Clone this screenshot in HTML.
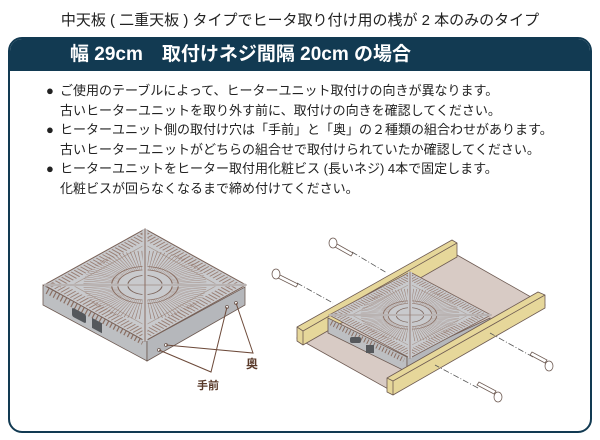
<!DOCTYPE html>
<html><head><meta charset="utf-8"><style>
html,body{margin:0;padding:0;background:#fff;}
body{width:600px;height:440px;position:relative;overflow:hidden;font-family:"Liberation Sans","Noto Sans CJK JP",sans-serif;}
.title{position:absolute;top:9px;left:0;width:600px;text-align:center;font-size:15px;color:#222;}
.box{position:absolute;left:8px;top:37px;width:580px;height:392px;border:2px solid #123a52;border-radius:14px;overflow:hidden;}
.hd{height:32px;background:#123a52;color:#fff;font-weight:bold;font-size:19px;line-height:32px;padding-left:60px;}
.li{position:absolute;left:50px;font-size:13px;color:#222;line-height:19.5px;}
.li b{position:absolute;left:-14px;font-weight:normal;}
svg{position:absolute;left:0;top:0;}
</style></head><body>
<div class="title">中天板 ( 二重天板 ) タイプでヒータ取り付け用の桟が 2 本のみのタイプ</div>
<div class="box"><div class="hd">幅 29cm　取付けネジ間隔 20cm の場合</div>
<div class="li" style="top:42px"><b>●</b>ご使用のテーブルによって、ヒーターユニット取付けの向きが異なります。<br>古いヒーターユニットを取り外す前に、取付けの向きを確認してください。</div>
<div class="li" style="top:81px"><b>●</b>ヒーターユニット側の取付け穴は「手前」と「奥」の２種類の組合わせがあります。<br>古いヒーターユニットがどちらの組合せで取付けられていたか確認してください。</div>
<div class="li" style="top:120px"><b>●</b>ヒーターユニットをヒーター取付用化粧ビス (長いネジ) 4本で固定します。<br>化粧ビスが回らなくなるまで締め付けてください。</div>
</div>
<svg width="600" height="440" viewBox="0 0 600 440">
<defs>
<g id="top">
<polygon points="0,-1 -1,0 0,1 1,0" fill="#c9cacd" stroke="#7a6258" stroke-width="0.015"/>
<polygon points="0,-0.88 -0.88,0 0,0.88 0.88,0" fill="none" stroke="#9a8076" stroke-width="0.12" stroke-dasharray="0.014 0.03"/>
<polygon points="0,-0.72 -0.72,0 0,0.72 0.72,0" fill="none" stroke="#a89890" stroke-width="0.01"/>
<circle r="0.44" fill="none" stroke="#9a8076" stroke-width="0.34" stroke-dasharray="0.006 0.022"/>
<circle r="0.27" fill="none" stroke="#8a6e62" stroke-width="0.012"/>
<circle r="0.33" fill="none" stroke="#8a6e62" stroke-width="0.012"/>
<circle r="0.17" fill="#c9cacd" stroke="#7a6258" stroke-width="0.012"/>
<line x1="0" y1="-1" x2="0" y2="1" stroke="#c9cacd" stroke-width="0.05"/>
<line x1="-1" y1="0" x2="1" y2="0" stroke="#c9cacd" stroke-width="0.05"/>
<line x1="0" y1="-1" x2="0" y2="1" stroke="#8a6e62" stroke-width="0.01"/>
<line x1="-1" y1="0" x2="1" y2="0" stroke="#8a6e62" stroke-width="0.01"/>
</g>
</defs>
<!-- left heater -->
<polygon points="43,285 147,340 147,361 43,305" fill="#bdbfc2" stroke="#6d5a52" stroke-width="0.8"/>
<polygon points="147,340 245,287 245,305 147,361" fill="#b5b7bb" stroke="#6d5a52" stroke-width="0.8"/>
<line x1="47" y1="291" x2="143" y2="342" stroke="#8a6e62" stroke-width="6" stroke-dasharray="1.2 2.8"/>
<rect x="72" y="310" width="14" height="9" rx="2" fill="#55585c" transform="skewY(28) translate(0,-41)"/>
<rect x="92" y="320" width="10" height="10" fill="#55585c" transform="skewY(28) translate(0,-51)"/>
<use href="#top" transform="matrix(101,0,0,56,145,285)"/>
<g fill="#fff" stroke="#6d5a52" stroke-width="0.8"><circle cx="227" cy="307" r="1.5"/><circle cx="236" cy="303" r="1.5"/><circle cx="159" cy="350" r="1.5"/><circle cx="166" cy="345" r="1.5"/></g>
<g stroke="#6d4a3a" stroke-width="1" fill="none">
<polyline points="236,303 253,353 166,345"/>
<polyline points="227,307 211,372 159,350"/>
</g>
<text x="246" y="368" font-size="12" font-weight="bold" fill="#5a3a2a" font-family="Liberation Sans,Noto Sans CJK JP,sans-serif">奥</text>
<text x="197" y="389" font-size="11" font-weight="bold" fill="#5a3a2a" font-family="Liberation Sans,Noto Sans CJK JP,sans-serif">手前</text>
<!-- right -->
<polygon points="297,338 390,390 545,305 457,255" fill="#d8cbc5" stroke="#6d5a52" stroke-width="0.8"/>
<polygon points="297,327 452,240 457,243 457,257 303,345 297,341" fill="#e6d79a" stroke="#6d5a52" stroke-width="0.8"/>
<line x1="303" y1="331" x2="457" y2="243" stroke="#6d5a52" stroke-width="0.8"/>
<line x1="303" y1="331" x2="303" y2="345" stroke="#6d5a52" stroke-width="0.8"/>
<line x1="297" y1="327" x2="303" y2="331" stroke="#6d5a52" stroke-width="0.8"/>
<polygon points="328,318 407,357 407,372 328,333" fill="#bdbfc2" stroke="#6d5a52" stroke-width="0.8"/>
<polygon points="407,357 490,318 490,333 407,372" fill="#b5b7bb" stroke="#6d5a52" stroke-width="0.8"/>
<line x1="331" y1="323" x2="404" y2="360" stroke="#8a6e62" stroke-width="5" stroke-dasharray="1 2.4"/>
<rect x="350" y="337" width="11" height="6" rx="2" fill="#55585c"/>
<rect x="366" y="345" width="8" height="8" fill="#55585c"/>
<use href="#top" transform="matrix(81,0,0,43,410,315)"/>
<polygon points="387,378 538,292 545,295 545,308 393,395 387,392" fill="#e6d79a" stroke="#6d5a52" stroke-width="0.8"/>
<line x1="393" y1="381" x2="545" y2="295" stroke="#6d5a52" stroke-width="0.8"/>
<line x1="393" y1="381" x2="393" y2="395" stroke="#6d5a52" stroke-width="0.8"/>
<line x1="387" y1="378" x2="393" y2="381" stroke="#6d5a52" stroke-width="0.8"/>
<g stroke="#555" stroke-width="0.8" stroke-dasharray="6 2 1 2" fill="none">
<line x1="352" y1="252" x2="387" y2="273"/><line x1="297" y1="283" x2="333" y2="303"/>
<line x1="533" y1="357" x2="490" y2="333"/><line x1="478" y1="388" x2="435" y2="365"/>
</g>
<g fill="#fff" stroke="#6d5a52" stroke-width="0.8">
<polygon points="337,244 353,253 351,256 335,247"/><ellipse cx="333" cy="243" rx="4" ry="5"/>
<polygon points="280,275 298,284 296,287 278,278"/><ellipse cx="276" cy="274" rx="4" ry="5"/>
<polygon points="545,363 530,355 532,352 547,360"/><ellipse cx="549" cy="366" rx="4" ry="5"/>
<polygon points="494,394 477,385 479,382 496,391"/><ellipse cx="498" cy="397" rx="4" ry="5"/>
</g>
</svg>
</body></html>
